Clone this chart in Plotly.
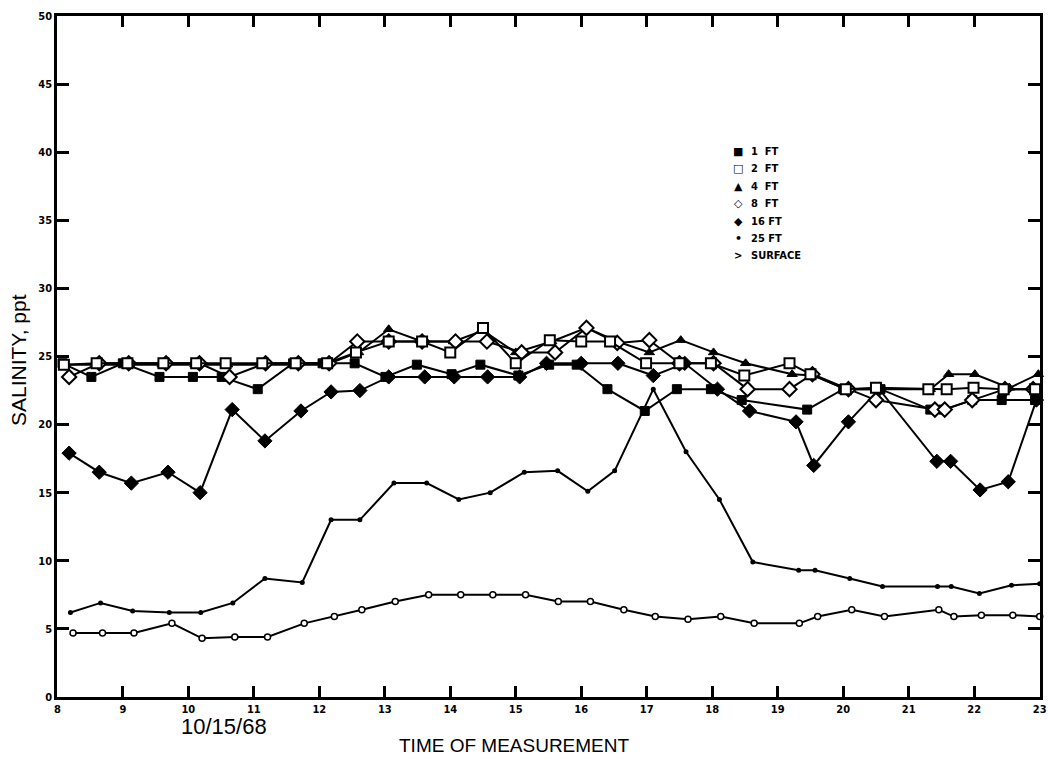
import plotly.graph_objects as go

# ---- data (hours of day on 10/15/68, salinity in ppt) ----
hours_1ft = [8.08, 8.52, 9.00, 9.56, 10.07, 10.51, 11.06, 11.60, 12.05, 12.54, 13.01, 13.49, 14.02, 14.46,
             15.04, 15.51, 15.93, 16.40, 16.97, 17.46, 17.98, 18.45, 19.45, 20.00, 20.57, 21.33, 21.53,
             21.97, 22.42, 22.93]
sal_1ft = [24.5, 23.5, 24.5, 23.5, 23.5, 23.5, 22.6, 24.5, 24.5, 24.5, 23.5, 24.4, 23.7, 24.4,
           23.6, 24.4, 24.4, 22.6, 21.0, 22.6, 22.6, 21.8, 21.1, 22.6, 22.6, 21.1, 21.1,
           21.8, 21.8, 21.8]

hours_2ft = [8.10, 8.60, 9.07, 9.62, 10.12, 10.57, 11.13, 11.64, 12.12, 12.56, 13.06, 13.57, 14.00, 14.50,
             15.00, 15.52, 16.00, 16.44, 16.99, 17.50, 17.98, 18.49, 19.18, 19.50, 20.04, 20.50, 21.30,
             21.58, 21.99, 22.45, 22.93]
sal_2ft = [24.4, 24.5, 24.5, 24.5, 24.5, 24.5, 24.5, 24.5, 24.5, 25.3, 26.1, 26.1, 25.3, 27.1,
           24.5, 26.2, 26.1, 26.1, 24.5, 24.5, 24.5, 23.6, 24.5, 23.7, 22.6, 22.7, 22.6,
           22.6, 22.7, 22.6, 22.6]

hours_4ft = [8.10, 8.60, 9.10, 9.60, 10.10, 10.60, 11.10, 11.60, 12.10, 12.60, 13.06, 13.57, 14.05, 14.50,
             15.00, 15.55, 16.08, 16.55, 17.04, 17.52, 18.02, 18.51, 19.22, 19.55, 20.04, 20.55, 21.33,
             21.61, 22.01, 22.54, 22.98]
sal_4ft = [24.4, 24.4, 24.4, 24.4, 24.4, 24.4, 24.4, 24.4, 24.4, 25.3, 27.0, 26.1, 26.1, 26.9,
           25.3, 26.1, 27.1, 26.1, 25.3, 26.2, 25.3, 24.5, 23.7, 23.6, 22.6, 22.6, 22.6,
           23.7, 23.7, 22.7, 23.7]

hours_8ft = [8.18, 8.64, 9.09, 9.66, 10.17, 10.63, 11.18, 11.68, 12.15, 12.58, 13.06, 13.57, 14.08, 14.56,
             15.09, 15.60, 16.08, 16.55, 17.04, 17.50, 18.02, 18.54, 19.18, 19.53, 20.08, 20.50, 21.40,
             21.55, 21.97, 22.47, 22.90]
sal_8ft = [23.5, 24.5, 24.5, 24.5, 24.5, 23.5, 24.5, 24.5, 24.5, 26.1, 26.1, 26.1, 26.1, 26.1,
           25.3, 25.3, 27.1, 26.0, 26.2, 24.5, 24.5, 22.6, 22.6, 23.7, 22.6, 21.8, 21.1,
           21.1, 21.8, 22.6, 22.6]

hours_16ft = [8.18, 8.64, 9.13, 9.69, 10.18, 10.67, 11.17, 11.72, 12.18, 12.62, 13.06, 13.61, 14.06, 14.57,
              15.06, 15.47, 16.00, 16.56, 17.10, 17.58, 18.08, 18.57, 19.28, 19.55, 20.08, 20.55, 21.43,
              21.64, 22.09, 22.52, 22.95]
sal_16ft = [17.9, 16.5, 15.7, 16.5, 15.0, 21.1, 18.8, 21.0, 22.4, 22.5, 23.5, 23.5, 23.5, 23.5,
            23.5, 24.5, 24.5, 24.5, 23.6, 24.5, 22.6, 21.0, 20.2, 17.0, 20.2, 22.6, 17.3,
            17.3, 15.2, 15.8, 21.8]

hours_25ft = [8.20, 8.66, 9.15, 9.71, 10.19, 10.68, 11.17, 11.74, 12.18, 12.62, 13.14, 13.64, 14.13, 14.61,
              15.13, 15.64, 16.10, 16.51, 17.10, 17.60, 18.11, 18.62, 19.32, 19.57, 20.10, 20.60, 21.44,
              21.65, 22.08, 22.57, 23.00]
sal_25ft = [6.2, 6.9, 6.3, 6.2, 6.2, 6.9, 8.7, 8.4, 13.0, 13.0, 15.7, 15.7, 14.5, 15.0,
            16.5, 16.6, 15.1, 16.6, 22.6, 18.0, 14.5, 9.9, 9.3, 9.3, 8.7, 8.1, 8.1,
            8.1, 7.6, 8.2, 8.3]

hours_surf = [8.24, 8.69, 9.17, 9.75, 10.21, 10.71, 11.21, 11.77, 12.23, 12.65, 13.16, 13.67, 14.16, 14.65,
              15.15, 15.65, 16.14, 16.65, 17.13, 17.63, 18.13, 18.64, 19.33, 19.61, 20.13, 20.63, 21.46,
              21.69, 22.11, 22.59, 23.00]
sal_surf = [4.7, 4.7, 4.7, 5.4, 4.3, 4.4, 4.4, 5.4, 5.9, 6.4, 7.0, 7.5, 7.5, 7.5,
            7.5, 7.0, 7.0, 6.4, 5.9, 5.7, 5.9, 5.4, 5.4, 5.9, 6.4, 5.9, 6.4,
            5.9, 6.0, 6.0, 5.9]

legend_names = ["1  FT", "2  FT", "4  FT", "8  FT", "16 FT", "25 FT", "SURFACE"]
legend_glyphs = ["\u25A0", "\u25A1", "\u25B2", "\u25C7", "\u25C6", "\u2022", ">"]

x_ticks = list(range(8, 24))
x_ticktext = [str(h) for h in x_ticks]
y_ticks = list(range(0, 51, 5))
y_ticktext = [str(v) for v in y_ticks]

FONT = "Liberation Sans Narrow, Arial Narrow, DejaVu Sans Condensed, Liberation Sans, sans-serif"
TFONT = "Liberation Sans, Arial, sans-serif"

# ---- figure ----
W, H = 1048, 762
L, R, T, B = 57, 8, 16, 65
plot_w, plot_h = W - L - R, H - T - B

def px_to_paper(px, py):
    return (px - L) / plot_w, (H - B - py) / plot_h

fig = go.Figure()

series = [
    (hours_surf, sal_surf, dict(symbol="circle", size=6, color="white", line=dict(color="black", width=1.5))),
    (hours_25ft, sal_25ft, dict(symbol="circle", size=5, color="black", line=dict(color="black", width=0))),
    (hours_16ft, sal_16ft, dict(symbol="diamond", size=11, color="black", line=dict(color="black", width=1))),
    (hours_1ft, sal_1ft, dict(symbol="square", size=9, color="black", line=dict(color="black", width=1))),
    (hours_4ft, sal_4ft, dict(symbol="triangle-up", size=9, color="black", line=dict(color="black", width=1))),
    (hours_8ft, sal_8ft, dict(symbol="diamond", size=11, color="white", line=dict(color="black", width=2))),
    (hours_2ft, sal_2ft, dict(symbol="square", size=10, color="white", line=dict(color="black", width=2))),
]
for xs, ys, mk in series:
    fig.add_trace(go.Scatter(x=xs, y=ys, mode="lines+markers",
                             line=dict(color="black", width=2),
                             marker=mk, showlegend=False, cliponaxis=False))

# legend drawn as text
leg_x = 738
leg_y0, leg_dy = 151, 17.5
for i, (g, name) in enumerate(zip(legend_glyphs, legend_names)):
    py = leg_y0 + i * leg_dy
    gx, gy = px_to_paper(leg_x, py)
    tx, _ = px_to_paper(leg_x + 11, py)
    fig.add_annotation(x=gx, y=gy, xref="paper", yref="paper", text=g, showarrow=False,
                       xanchor="center", yanchor="middle",
                       font=dict(family="DejaVu Sans", size=11 if g not in (">",) else 10,
                                 color="black", weight="bold"))
    fig.add_annotation(x=tx, y=gy, xref="paper", yref="paper", text=name, showarrow=False,
                       xanchor="left", yanchor="middle",
                       font=dict(family=FONT, size=11, color="black", weight="bold"))

# axis titles and date
ax, ay = px_to_paper(19, 360)
fig.add_annotation(x=ax, y=ay, xref="paper", yref="paper", text="SALINITY, ppt", textangle=-90,
                   showarrow=False, xanchor="center", yanchor="middle",
                   font=dict(family=TFONT, size=21, color="black"))
tx, ty = px_to_paper(514, 746)
fig.add_annotation(x=tx, y=ty, xref="paper", yref="paper", text="TIME OF MEASUREMENT",
                   showarrow=False, xanchor="center", yanchor="middle",
                   font=dict(family=TFONT, size=19, color="black"))
dx, dy = px_to_paper(224, 727)
fig.add_annotation(x=dx, y=dy, xref="paper", yref="paper", text="10/15/68",
                   showarrow=False, xanchor="center", yanchor="middle",
                   font=dict(family=TFONT, size=22, color="black"))

axis_common = dict(showgrid=False, zeroline=False, showline=True, linecolor="black", linewidth=2.5,
                   ticks="inside", tickcolor="black", tickwidth=2.5, mirror="ticks",
                   ticklabeloverflow="allow",
                   tickfont=dict(family=FONT, size=11, color="black", weight="bold"))
fig.update_xaxes(range=[7.995, 23.005], tickvals=x_ticks, ticktext=x_ticktext, ticklen=11, **axis_common)
fig.update_yaxes(range=[-0.01, 50.01], tickvals=y_ticks, ticktext=y_ticktext, ticklen=12, **axis_common)

fig.update_layout(width=W, height=H, margin=dict(l=L, r=R, t=T, b=B, autoexpand=False),
                  paper_bgcolor="white", plot_bgcolor="white", showlegend=False)

fig.write_html("out.html")
